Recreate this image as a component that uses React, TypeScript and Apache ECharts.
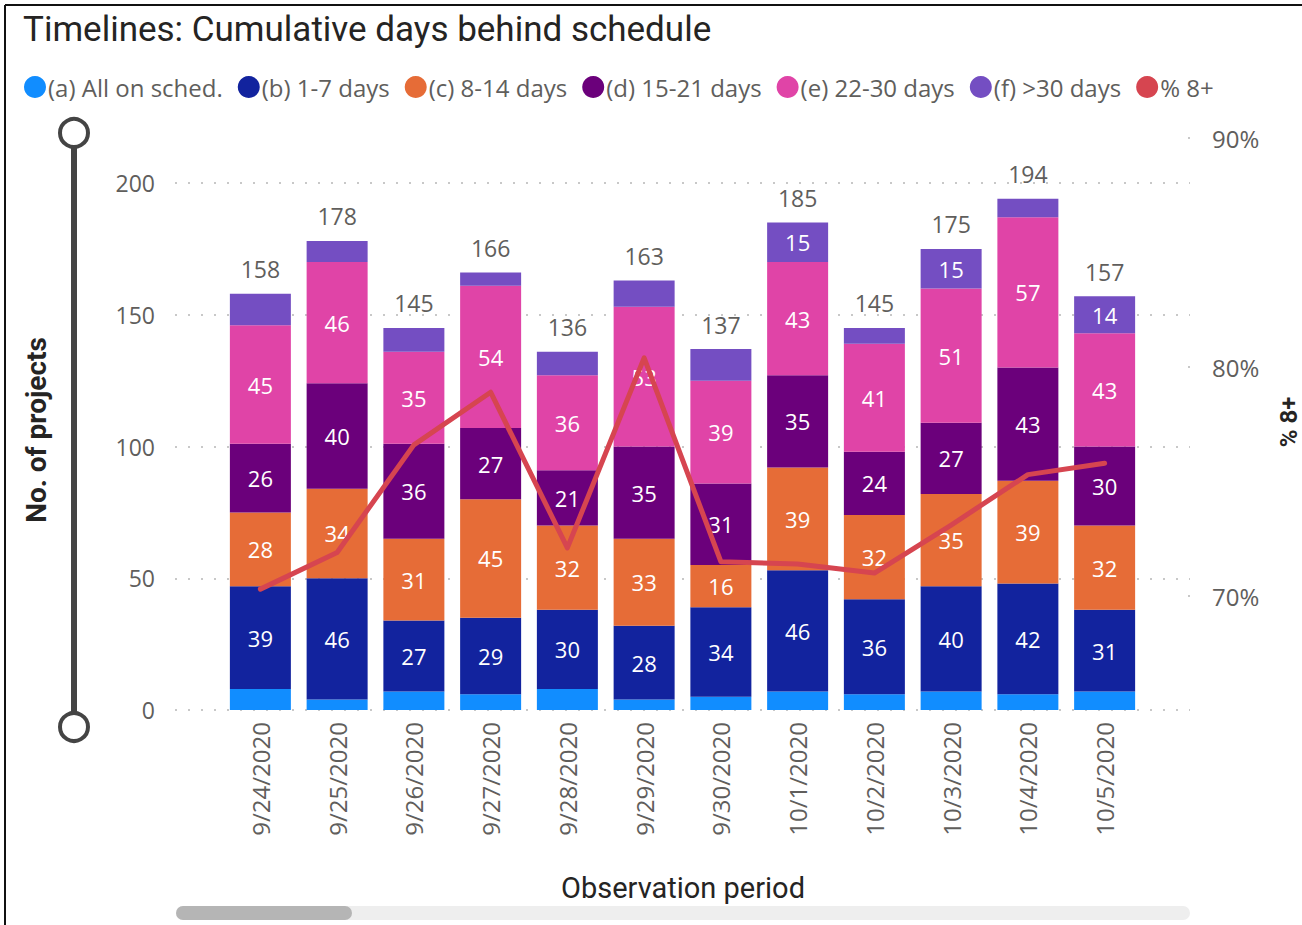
import React, { useEffect, useRef } from "react";
import * as echarts from "echarts";

const categories = ["9/24/2020", "9/25/2020", "9/26/2020", "9/27/2020", "9/28/2020", "9/29/2020", "9/30/2020", "10/1/2020", "10/2/2020", "10/3/2020", "10/4/2020", "10/5/2020"];
const onSched = [8, 4, 7, 6, 8, 4, 5, 7, 6, 7, 6, 7];
const days1to7 = [39, 46, 27, 29, 30, 28, 34, 46, 36, 40, 42, 31];
const days8to14 = [28, 34, 31, 45, 32, 33, 16, 39, 32, 35, 39, 32];
const days15to21 = [26, 40, 36, 27, 21, 35, 31, 35, 24, 27, 43, 30];
const days22to30 = [45, 46, 35, 54, 36, 53, 39, 43, 41, 51, 57, 43];
const daysOver30 = [12, 8, 9, 5, 9, 10, 12, 15, 6, 15, 7, 14];
const totals = [158, 178, 145, 166, 136, 163, 137, 185, 145, 175, 194, 157];
const pct8plus = [70.3, 71.9, 76.6, 78.9, 72.1, 80.4, 71.5, 71.4, 71.0, 73.1, 75.3, 75.8];
const leftTicks = [0, 50, 100, 150, 200];
const rightTicks = [70, 80, 90];

const seriesNames = ["(a) All on sched.", "(b) 1-7 days", "(c) 8-14 days", "(d) 15-21 days", "(e) 22-30 days", "(f) >30 days"];
const seriesColors = ["#118DFF", "#12239E", "#E66C37", "#6B007B", "#E044A7", "#744EC2"];
const lineName = "% 8+";
const lineColor = "#D64550";

const FONT = "'Open Sans', 'Noto Sans', sans-serif";
const DIN = "Roboto, 'DejaVu Sans', sans-serif";
const GREY = "#605E5C";

export default function App() {
  const ref = useRef<HTMLDivElement>(null);
  useEffect(() => {
    if (!ref.current) return;
    const chart = echarts.init(ref.current, null, { renderer: "svg" });
    const stacks = [onSched, days1to7, days8to14, days15to21, days22to30, daysOver30];
    const barLeft = 222;
    const barWidthArea = 921;
    const barSeries: any[] = stacks.map((arr, i) => ({
      name: seriesNames[i],
      type: "bar",
      stack: "s",
      xAxisIndex: 1,
      yAxisIndex: 1,
      barWidth: 61,
      itemStyle: { color: seriesColors[i] },
      data: arr,
      label: {
        show: i > 0,
        position: "inside",
        color: "#ffffff",
        fontFamily: FONT,
        fontSize: 22,
        formatter: (p: any) => (i === 5 && p.value < 13 ? "" : String(p.value)),
      },
      z: 2,
    }));
    barSeries.push({
      name: "total",
      type: "bar",
      stack: "s",
      xAxisIndex: 1,
      yAxisIndex: 1,
      barWidth: 61,
      itemStyle: { color: "transparent" },
      data: totals.map(() => 0),
      label: {
        show: true,
        position: "top",
        distance: 13,
        color: GREY,
        fontFamily: FONT,
        fontSize: 23,
        formatter: (p: any) => String(totals[p.dataIndex]),
      },
      z: 2,
    });
    const option: any = {
      animation: false,
      backgroundColor: "#ffffff",
      title: {
        text: "Timelines: Cumulative days behind schedule",
        left: 18,
        top: 7,
        textStyle: { fontFamily: DIN, fontSize: 35, fontWeight: "normal", color: "#252423" },
      },
      legend: {
        left: 19,
        top: 70,
        icon: "circle",
        itemWidth: 22,
        itemHeight: 22,
        itemGap: 15,
        textStyle: { fontFamily: FONT, fontSize: 24, color: GREY, padding: [0, 0, 0, -3] },
        data: [...seriesNames, lineName],
      },
      grid: [
        { left: 175, width: 1015, top: 183, height: 527 },
        { left: barLeft, width: barWidthArea, top: 183, height: 527 },
        { left: barLeft, width: barWidthArea, top: 138, height: 458 },
      ],
      xAxis: [
        { type: "value", gridIndex: 0, show: false, min: 0, max: 1 },
        {
          type: "category",
          gridIndex: 1,
          data: categories,
          boundaryGap: true,
          axisLine: { show: false },
          axisTick: { show: false },
          axisLabel: { rotate: 90, margin: 12, color: GREY, fontFamily: FONT, fontSize: 24 },
        },
        { type: "category", gridIndex: 2, data: categories, boundaryGap: true, show: false },
      ],
      yAxis: [
        {
          type: "value",
          gridIndex: 0,
          min: leftTicks[0],
          max: leftTicks[leftTicks.length - 1],
          interval: 50,
          axisLine: { show: false },
          axisTick: { show: false },
          axisLabel: { margin: 20, color: GREY, fontFamily: FONT, fontSize: 23 },
          splitLine: { show: true, lineStyle: { color: "#C8C8C8", width: 2, type: [2, 11] } },
        },
        { type: "value", gridIndex: 1, min: 0, max: 200, show: false },
        {
          type: "value",
          gridIndex: 2,
          position: "right",
          offset: 1190 - (barLeft + barWidthArea),
          min: rightTicks[0],
          max: rightTicks[rightTicks.length - 1],
          interval: 10,
          axisLine: { show: false },
          axisTick: { show: true, length: 2, inside: true, lineStyle: { color: "#C8C8C8", width: 2 } },
          splitLine: { show: false },
          axisLabel: { margin: 22, color: GREY, fontFamily: FONT, fontSize: 24, formatter: "{value}%" },
        },
      ],
      series: [
        ...barSeries,
        {
          name: lineName,
          type: "line",
          xAxisIndex: 2,
          yAxisIndex: 2,
          data: pct8plus,
          symbol: "none",
          showSymbol: false,
          itemStyle: { color: lineColor },
          lineStyle: { color: lineColor, width: 5, cap: "round", join: "round" },
          z: 5,
        },
      ],
      graphic: [
        { type: "line", shape: { x1: 5, y1: 5, x2: 1302, y2: 5 }, style: { stroke: "#111", lineWidth: 2 } },
        { type: "line", shape: { x1: 5, y1: 5, x2: 5, y2: 925 }, style: { stroke: "#111", lineWidth: 2 } },
        { type: "line", shape: { x1: 74, y1: 146, x2: 74, y2: 714 }, style: { stroke: "#444444", lineWidth: 6 } },
        { type: "circle", shape: { cx: 74, cy: 133, r: 14 }, style: { fill: "#ffffff", stroke: "#444444", lineWidth: 4 } },
        { type: "circle", shape: { cx: 74, cy: 727, r: 14 }, style: { fill: "#ffffff", stroke: "#444444", lineWidth: 4 } },
        { type: "rect", shape: { x: 176, y: 906, width: 1014, height: 14, r: 7 }, style: { fill: "#EEEEEE" } },
        { type: "rect", shape: { x: 176, y: 906, width: 176, height: 14, r: 7 }, style: { fill: "#B5B5B5" } },
        {
          type: "text",
          x: 36,
          y: 430,
          rotation: Math.PI / 2,
          style: { text: "No. of projects", fontFamily: DIN, fontSize: 28, fontWeight: "bold", fill: "#252423", align: "center", verticalAlign: "middle" },
        },
        {
          type: "text",
          x: 1289,
          y: 422,
          rotation: Math.PI / 2,
          style: { text: "% 8+", fontFamily: DIN, fontSize: 24, fontWeight: "bold", fill: "#252423", align: "center", verticalAlign: "middle" },
        },
        {
          type: "text",
          x: 683,
          y: 888,
          style: { text: "Observation period", fontFamily: DIN, fontSize: 29, fill: "#252423", align: "center", verticalAlign: "middle" },
        },
      ],
    };
    chart.setOption(option);
    return () => chart.dispose();
  }, []);
  return <div ref={ref} style={{ position: "fixed", left: 0, top: 0, width: 1302, height: 925, background: "#fff" }} />;
}
